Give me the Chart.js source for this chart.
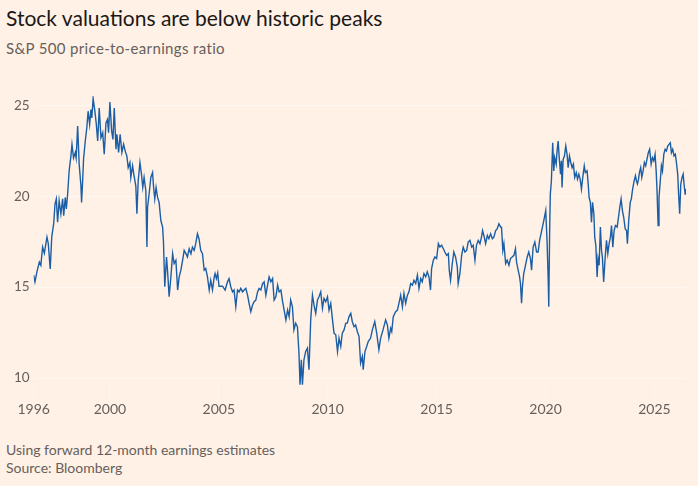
<!DOCTYPE html>
<html>
<head>
<meta charset="utf-8">
<script src="https://cdn.jsdelivr.net/npm/chart.js@4.4.1/dist/chart.umd.min.js"></script>
<style>
  body { margin: 0; background: #fff1e5; width: 698px; height: 486px; overflow: hidden; font-family: Lato, sans-serif; }
  .txt { position: absolute; left: 6px; white-space: nowrap; }
  #title { top: 6px; font-size: 21px; line-height: 24px; color: #1a1817; }
  #subtitle { top: 38px; font-size: 15px; line-height: 20px; color: #66605c; letter-spacing: 0.35px; }
  #note { top: 441px; font-size: 14px; line-height: 18px; color: #66605c; }
  #source { top: 459px; font-size: 14px; line-height: 18px; color: #66605c; }
  #chart { position: absolute; left: 0; top: 84px; }
</style>
</head>
<body>
<div class="txt" id="title">Stock valuations are below historic peaks</div>
<div class="txt" id="subtitle">S&amp;P 500 price-to-earnings ratio</div>
<canvas id="chart" width="698" height="340"></canvas>
<div class="txt" id="note">Using forward 12-month earnings estimates</div>
<div class="txt" id="source">Source: Bloomberg</div>
<script>
"use strict";

// decimal years
const dates = [
  1996.50,1996.56,1996.65,1996.76,1996.83,1996.91,1996.99,1997.11,1997.17,1997.26,
  1997.33,1997.42,1997.48,1997.54,1997.60,1997.67,1997.75,1997.83,1997.88,1997.95,
  1998.00,1998.06,1998.13,1998.21,1998.26,1998.33,1998.41,1998.45,1998.52,1998.59,
  1998.67,1998.70,1998.75,1998.79,1998.87,1998.94,1999.00,1999.07,1999.13,1999.17,
  1999.23,1999.31,1999.37,1999.44,1999.51,1999.59,1999.67,1999.74,1999.82,1999.89,
  1999.94,2000.00,2000.08,2000.14,2000.20,2000.28,2000.32,2000.40,2000.47,2000.55,
  2000.63,2000.70,2000.78,2000.84,2000.92,2000.96,2001.04,2001.11,2001.19,2001.24,
  2001.30,2001.38,2001.45,2001.51,2001.57,2001.65,2001.70,2001.73,2001.80,2001.88,
  2001.96,2002.00,2002.06,2002.12,2002.19,2002.26,2002.34,2002.42,2002.46,2002.52,
  2002.60,2002.65,2002.72,2002.80,2002.88,2002.95,2003.03,2003.11,2003.18,2003.26,
  2003.34,2003.41,2003.49,2003.56,2003.64,2003.72,2003.79,2003.87,2003.94,2004.02,
  2004.09,
  2004.17,2004.25,2004.33,2004.40,2004.48,2004.56,2004.63,2004.71,2004.79,2004.83,
  2004.89,2004.95,2005.01,2005.17,2005.29,2005.40,2005.47,2005.55,2005.63,2005.70,
  2005.78,2005.86,2005.93,2006.01,2006.09,2006.16,2006.24,2006.32,2006.39,2006.47,
  2006.55,2006.62,2006.70,2006.78,2006.85,2006.93,2007.01,2007.08,2007.16,2007.24,
  2007.31,2007.39,2007.47,2007.54,2007.62,2007.70,2007.77,2007.85,2007.93,2008.00,
  2008.08,2008.16,2008.23,2008.30,2008.38,2008.45,2008.53,2008.61,2008.68,2008.73,
  2008.79,2008.84,2008.91,2008.99,2009.07,2009.14,2009.22,2009.30,2009.37,2009.45,
  2009.53,2009.60,2009.68,2009.76,2009.83,2009.91,2009.99,2010.06,2010.14,2010.22,
  2010.29,2010.37,2010.45,2010.52,2010.60,2010.67,2010.75,2010.83,2010.90,2010.98,
  2011.06,2011.13,2011.21,2011.28,2011.36,2011.44,2011.51,2011.59,2011.63,2011.71,
  2011.79,2011.86,2011.97,2012.05,2012.16,2012.25,2012.35,2012.43,2012.54,2012.66,
  2012.74,2012.81,2012.89,2012.94,2013.01,2013.12,2013.20,2013.27,2013.35,2013.43,
  2013.50,2013.58,2013.66,2013.73,2013.81,2013.89,2013.96,2014.04,2014.12,2014.19,
  2014.27,2014.34,2014.42,2014.50,2014.57,2014.65,2014.72,2014.77,2014.85,2014.92,
  2015.00,2015.08,2015.15,2015.23,2015.31,2015.38,2015.46,2015.54,2015.58,2015.64,
  2015.72,2015.79,2015.87,2015.95,2015.99,2016.07,2016.15,2016.22,2016.30,2016.38,
  2016.45,2016.53,2016.61,2016.68,2016.76,2016.83,2016.91,2016.99,2017.06,2017.11,
  2017.17,2017.25,2017.33,2017.40,2017.48,2017.56,2017.63,2017.71,2017.78,2017.86,
  2017.94,2017.98,2018.04,2018.09,2018.17,2018.24,2018.32,2018.39,2018.47,2018.55,
  2018.62,2018.67,2018.73,2018.81,2018.85,2018.90,2018.94,2019.00,2019.08,2019.16,
  2019.23,2019.31,2019.36,2019.43,2019.51,2019.59,2019.66,2019.73,2019.81,2019.89,
  2019.95,2020.01,2020.07,2020.12,2020.15,2020.19,2020.22,2020.27,2020.33,2020.38,
  2020.42,2020.49,2020.53,2020.58,2020.63,2020.69,2020.73,2020.76,2020.81,2020.87,
  2020.93,2020.99,2021.04,2021.10,2021.16,2021.22,2021.28,2021.34,2021.41,2021.47,
  2021.53,2021.59,2021.65,2021.71,2021.78,2021.83,2021.91,2021.96,2022.00,2022.06,
  2022.11,2022.16,2022.22,2022.26,2022.31,2022.37,2022.41,2022.46,2022.52,2022.57,
  2022.61,2022.67,2022.74,2022.80,2022.86,2022.92,2022.98,2023.03,2023.09,2023.15,
  2023.21,2023.29,2023.35,2023.41,2023.47,2023.53,2023.59,2023.66,2023.72,2023.76,
  2023.82,2023.89,2023.94,2024.00,2024.07,2024.13,2024.17,2024.22,2024.27,2024.31,
  2024.37,2024.42,2024.48,2024.54,2024.60,2024.66,2024.72,2024.78,2024.85,2024.91,
  2024.97,2025.03,2025.08,2025.12,2025.17,2025.21,2025.27,2025.32,2025.37,2025.43,
  2025.49,2025.55,2025.61,2025.67,2025.73,2025.78,2025.84,2025.90,2025.96,2026.01,
  2026.07,2026.11,2026.16,2026.21,2026.27,2026.32,2026.36,2026.41,2026.44
];

const peRatio = [
  15.66,15.29,15.84,16.38,16.2,17.2,16.86,17.75,17.4,16.0,
  17.75,18.5,19.57,19.85,18.57,19.75,19.03,19.85,18.93,19.93,
  19.3,20.12,21.4,22.2,22.85,22.1,22.4,22.1,23.85,21.76,
  20.57,19.66,20.85,22.03,23.03,23.76,24.67,23.95,24.76,24.3,
  25.37,24.67,24.03,23.03,24.85,23.21,23.49,22.3,24.03,24.22,
  23.49,25.18,23.58,23.12,24.85,22.58,23.4,22.4,23.4,22.4,
  22.85,22.49,22.2,21.57,21.85,21.03,21.67,21.12,20.57,19.03,
  20.85,21.85,21.2,20.48,21.03,20.3,17.2,19.39,20.12,21.03,
  21.3,20.57,19.85,20.48,19.93,19.66,18.66,18.3,17.48,15.02,
  16.66,15.84,14.47,15.56,16.84,16.3,16.48,14.84,15.56,15.93,
  16.48,17.02,16.84,16.66,17.11,16.84,17.2,17.02,17.39,17.93,
  17.66,
  17.02,16.84,15.93,16.02,15.56,14.84,15.38,14.84,15.56,15.75,
  15.47,15.78,15.05,15.05,14.84,15.29,15.47,15.02,14.74,14.84,
  13.92,14.84,14.74,14.93,14.74,14.84,14.93,14.56,14.11,13.65,
  14.02,14.2,14.29,14.74,14.93,14.84,15.2,15.29,14.56,15.11,
  15.56,15.29,15.47,14.29,14.47,15.11,14.74,14.84,14.2,13.74,
  13.2,13.74,13.38,14.29,13.92,12.65,13.02,12.83,11.38,9.64,
  11.01,9.64,11.01,11.46,11.65,10.46,13.2,14.56,14.02,13.56,
  14.29,14.47,14.74,13.84,14.38,14.2,14.47,13.74,14.11,13.2,
  12.47,12.38,11.46,12.2,11.74,12.47,12.65,13.02,13.02,13.38,
  13.56,13.1,12.83,12.92,12.56,12.28,10.83,11.19,10.46,11.46,
  11.74,12.01,12.2,12.65,13.1,12.47,11.56,12.2,12.65,13.2,
  12.92,12.2,12.74,12.56,13.38,13.65,13.74,14.11,14.56,13.92,
  14.66,14.11,14.56,14.74,15.2,15.11,15.38,15.2,15.66,14.93,
  15.47,15.29,15.75,15.56,15.84,15.56,14.84,16.02,16.48,16.66,
  16.57,17.39,17.2,17.3,17.11,16.93,16.75,16.84,15.93,15.38,
  16.3,16.93,16.66,16.11,15.2,15.75,16.75,17.2,16.93,17.02,
  17.48,17.57,17.2,17.3,16.48,17.3,17.57,17.39,17.75,18.11,
  17.84,17.39,17.84,17.66,17.93,17.66,17.75,18.11,18.2,18.48,
  18.3,18.3,17.02,17.39,16.3,16.48,16.2,16.57,16.66,16.75,
  17.11,16.38,16.02,15.56,15.2,14.11,15.02,15.75,16.2,16.66,
  16.93,16.57,15.93,17.2,17.48,16.93,16.93,17.57,18.02,18.48,
  18.84,19.21,17.57,15.56,13.92,18.11,20.1,20.85,22.94,21.39,
  22.12,21.76,22.49,23.03,22.12,21.21,21.94,20.48,22.03,22.21,
  22.76,22.3,21.57,22.21,21.85,21.57,21.76,21.03,21.3,20.94,
  21.21,20.94,20.39,21.03,21.67,21.3,21.39,20.67,19.93,19.66,
  18.57,19.66,19.03,17.75,17.3,15.56,16.57,16.2,18.3,17.02,
  16.66,15.29,16.66,17.57,16.84,17.39,17.75,18.39,17.2,18.11,
  18.39,18.3,18.84,19.39,19.85,19.21,18.84,18.2,18.11,17.39,
  18.66,19.66,19.85,20.39,20.85,21.12,20.85,20.67,20.94,21.3,
  21.57,21.03,21.39,21.85,21.67,22.03,22.39,22.58,21.76,22.12,
  21.94,22.3,21.39,20.3,18.39,19.93,20.85,21.67,21.39,22.3,
  22.58,22.49,22.76,22.85,22.94,22.39,22.58,22.21,22.3,21.85,
  21.21,20.12,19.03,20.67,21.03,21.21,20.67,20.12,20.39
];

const xTickValues = [1996.5, 2000, 2005, 2010, 2015, 2020, 2025];
const xTickLabels = ['1996', '2000', '2005', '2010', '2015', '2020', '2025'];
const yTickValues = [10, 15, 20, 25];

const points = dates.map((d, i) => ({ x: d, y: peRatio[i] }));

const ctx = document.getElementById('chart').getContext('2d');
const chart = new Chart(ctx, {
  type: 'line',
  data: {
    datasets: [{
      data: points,
      borderColor: '#1b5ea6',
      borderWidth: 1.4,
      pointRadius: 0,
      tension: 0,
      fill: false
    }]
  },
  options: {
    responsive: false,
    animation: false,
    layout: { padding: { top: 11, left: 10, right: 12, bottom: 2 } },
    plugins: { legend: { display: false }, tooltip: { enabled: false } },
    scales: {
      x: {
        type: 'linear',
        min: 1996.5,
        max: 2026.45,
        afterBuildTicks: (axis) => { axis.ticks = xTickValues.map(v => ({ value: v })); },
        grid: { drawOnChartArea: false, drawTicks: true, tickLength: 10, color: '#fff8f2' },
        border: { display: false },
        ticks: {
          autoSkip: false,
          maxRotation: 0,
          padding: 4,
          color: '#66605c',
          font: { family: 'Lato', size: 14 },
          callback: (value, index) => xTickLabels[index]
        }
      },
      y: {
        min: 9.5,
        max: 25.5,
        afterBuildTicks: (axis) => { axis.ticks = yTickValues.map(v => ({ value: v })); },
        grid: { drawTicks: false, color: '#fff8f2', lineWidth: 1 },
        border: { display: false },
        ticks: {
          padding: 4,
          color: '#66605c',
          font: { family: 'Lato', size: 13.5 }
        }
      }
    }
  }
});
</script>
</body>
</html>
